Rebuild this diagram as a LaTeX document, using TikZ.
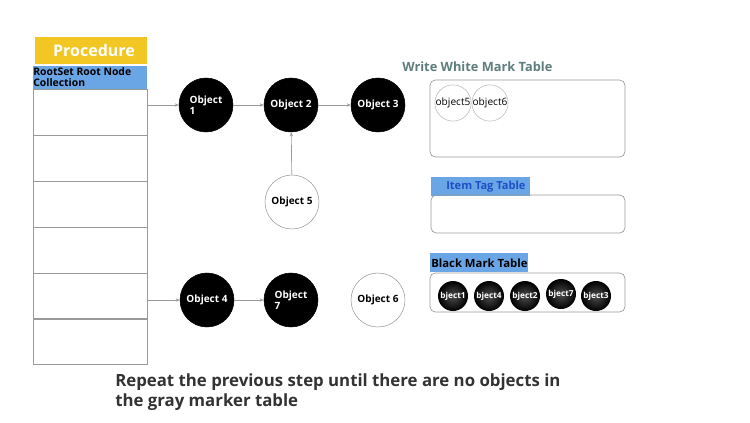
\documentclass[tikz,border=0pt]{standalone}
\usepackage{fontspec}
\setmainfont{Open Sans}
\usetikzlibrary{arrows.meta}
\definecolor{procyellow}{HTML}{F2C623}
\definecolor{barblue}{HTML}{6AA5E6}
\definecolor{gridgray}{HTML}{9A9A9A}
\definecolor{tealgray}{HTML}{5E7D7C}
\definecolor{tagblue}{HTML}{1E4FC4}
\definecolor{textdark}{HTML}{333333}
\tikzset{
  objblack/.style={circle, fill=black, draw=black, minimum size=40.5pt, inner sep=0pt, text=white, font=\bfseries\fontsize{7.5}{8}\selectfont, align=left},
  objwhite/.style={circle, fill=white, draw=gridgray, line width=0.4pt, minimum size=40.5pt, inner sep=0pt, text=black, font=\bfseries\fontsize{7.5}{8}\selectfont},
  conn/.style={draw=gridgray, line width=0.5pt, -{Stealth[length=3pt,width=2.5pt]}},
  tablebox/.style={draw=gridgray, rounded corners=4pt, line width=0.5pt},
  smallwhite/.style={circle, draw=gridgray!70, fill=white, minimum size=22.5pt, inner sep=0pt, font=\fontsize{7.6}{8}\selectfont},
  smallblack/.style={circle, inner color=gray!60!black, outer color=black, minimum size=22.5pt, inner sep=0pt, text=white, font=\bfseries\fontsize{6.2}{7}\selectfont},
  cellbox/.style={draw=gridgray, line width=0.4pt}
}
\begin{document}
\begin{tikzpicture}[x=0.75pt, y=-0.75pt]
\useasboundingbox (0,0) rectangle (750,422);
\fill[white] (0,0) rectangle (750,422);
% Procedure header
\fill[procyellow] (35,37) rectangle (147,64);
\node[text=white, font=\bfseries\fontsize{12}{12}\selectfont] (proc) at (94,50.5) {Procedure};
% blue bar
\fill[barblue] (33,66) rectangle (147,89);
\node[anchor=north west, inner sep=0pt, align=left, font=\bfseries\fontsize{7.8}{8.4}\selectfont] (rootset) at (33,67) {RootSet Root Node\\Collection};
% table cells
\foreach \y in {89,135,181,227,273,318}{
  \draw[cellbox] (33,\y) rectangle (147,\y+46);
}
\coordinate (row1) at (147,105);
\coordinate (row5) at (147,300);
% objects
\node[objblack] (o1) at (206,105) {Object\\1};
\node[objblack] (o2) at (291,105) {Object 2};
\node[objblack] (o3) at (378,105) {Object 3};
\node[objwhite] (o5) at (292,202) {Object 5};
\node[objblack] (o4) at (207,300) {Object 4};
\node[objblack] (o7) at (291,300) {Object\\7};
\node[objwhite] (o6) at (378,300) {Object 6};
% connectors
\draw[conn] (row1) -- (o1);
\draw[conn] (o1) -- (o2);
\draw[conn] (o2) -- (o3);
\draw[conn] (o5) -- (o2);
\draw[conn] (row5) -- (o4);
\draw[conn] (o4) -- (o7);
% Write White Mark Table
\node[anchor=west, inner sep=0pt, text=tealgray, font=\bfseries\fontsize{9.6}{10}\selectfont] (wwt) at (402,67) {Write White Mark Table};
\draw[tablebox] (430,80) rectangle (625,157);
\node[smallwhite] (s5) at (453,103) {object5};
\node[smallwhite] (s6) at (490,103) {object6};
% Item Tag Table
\fill[barblue] (431,177) rectangle (530,196);
\node[anchor=west, inner sep=0pt, text=tagblue, font=\bfseries\fontsize{8.3}{9}\selectfont] (itt) at (446,187) {Item Tag Table};
\draw[tablebox] (431,195) rectangle (625,233);
% Black Mark Table
\fill[barblue] (430,253) rectangle (528,272);
\node[anchor=west, inner sep=0pt, font=\bfseries\fontsize{8.5}{9}\selectfont] (bmt) at (431,263) {Black Mark Table};
\draw[tablebox] (430,273) rectangle (625,312);
\node[smallblack] (b1) at (453,296) {bject1};
\node[smallblack] (b4) at (489,296) {bject4};
\node[smallblack] (b2) at (525,296) {bject2};
\node[smallblack] (b7) at (561,294) {bject7};
\node[smallblack] (b3) at (596,296) {bject3};
% bottom text
\node[anchor=north west, inner sep=0pt, align=left, text=textdark, font=\bfseries\fontsize{12.6}{15}\selectfont] (note) at (115,373) {Repeat the previous step until there are no objects in\\the gray marker table};
\end{tikzpicture}
\end{document}
